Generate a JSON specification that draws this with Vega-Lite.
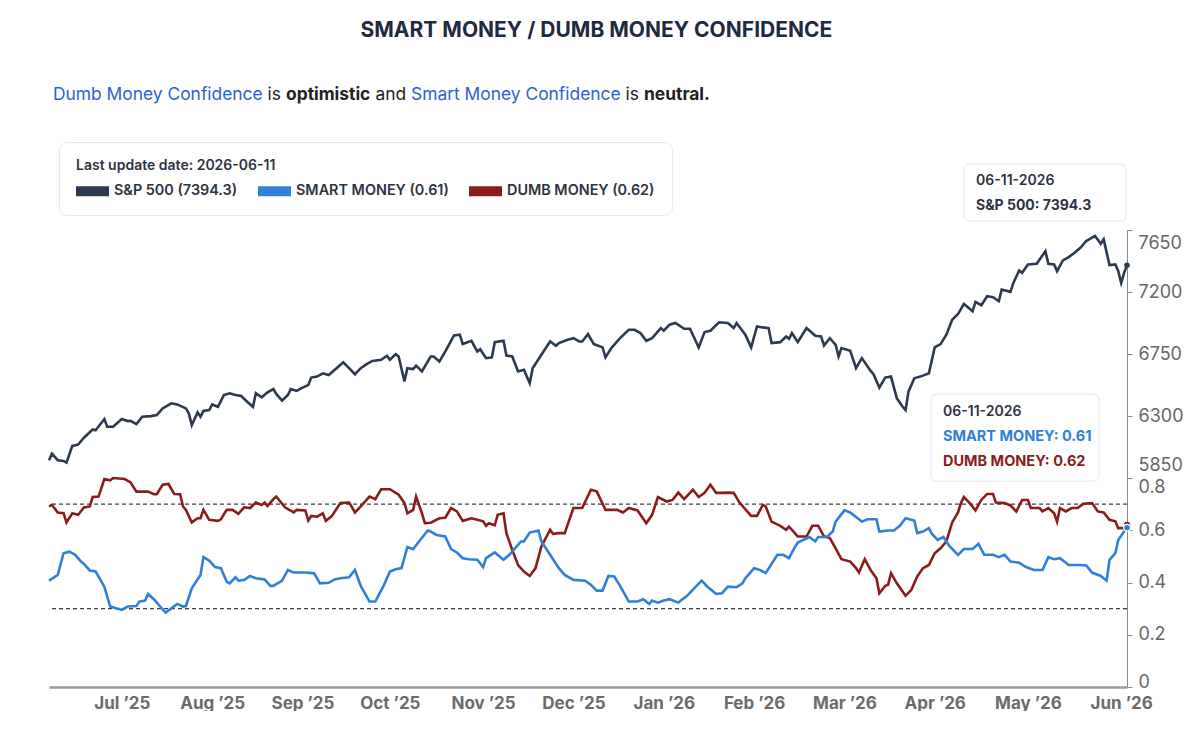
{
"$schema": "https://vega.github.io/schema/vega-lite/v6.json",
"background": "white",
"padding": {"left": 43, "top": 19, "right": 0, "bottom": 0},
"config": {"view": {"stroke": null}, "font": "Inter", "title": {"font": "Inter"}},
"title": {"text": "SMART MONEY / DUMB MONEY CONFIDENCE", "fontSize": 21, "fontWeight": 700, "color": "#1e2a40", "anchor": "middle", "offset": 45, "dx": -17},
"datasets": {
"sp": [
{"date":"2025-06-06","value":5979},{"date":"2025-06-07","value":6027},{"date":"2025-06-09","value":5979},{"date":"2025-06-11","value":5974},{"date":"2025-06-12","value":5962},{"date":"2025-06-14","value":6083},{"date":"2025-06-16","value":6093},{"date":"2025-06-18","value":6142},{"date":"2025-06-21","value":6202},{"date":"2025-06-22","value":6197},{"date":"2025-06-25","value":6278},{"date":"2025-06-26","value":6222},{"date":"2025-06-28","value":6222},
{"date":"2025-07-01","value":6278},{"date":"2025-07-03","value":6263},{"date":"2025-07-04","value":6265},{"date":"2025-07-06","value":6241},{"date":"2025-07-08","value":6295},{"date":"2025-07-11","value":6299},{"date":"2025-07-13","value":6307},{"date":"2025-07-15","value":6355},{"date":"2025-07-18","value":6392},{"date":"2025-07-20","value":6384},{"date":"2025-07-23","value":6355},{"date":"2025-07-24","value":6319},{"date":"2025-07-25","value":6234},{"date":"2025-07-27","value":6326},{"date":"2025-07-28","value":6295},{"date":"2025-07-29","value":6336},{"date":"2025-07-31","value":6343},
{"date":"2025-08-01","value":6384},{"date":"2025-08-03","value":6367},{"date":"2025-08-05","value":6452},{"date":"2025-08-07","value":6465},{"date":"2025-08-09","value":6452},{"date":"2025-08-11","value":6445},{"date":"2025-08-13","value":6404},{"date":"2025-08-15","value":6367},{"date":"2025-08-16","value":6465},{"date":"2025-08-18","value":6436},{"date":"2025-08-20","value":6472},{"date":"2025-08-22","value":6496},{"date":"2025-08-23","value":6460},{"date":"2025-08-25","value":6411},{"date":"2025-08-27","value":6452},{"date":"2025-08-28","value":6496},{"date":"2025-08-30","value":6482},
{"date":"2025-09-01","value":6506},{"date":"2025-09-03","value":6525},{"date":"2025-09-04","value":6579},{"date":"2025-09-06","value":6586},{"date":"2025-09-08","value":6610},{"date":"2025-09-10","value":6598},{"date":"2025-09-13","value":6652},{"date":"2025-09-15","value":6690},{"date":"2025-09-17","value":6647},{"date":"2025-09-19","value":6603},{"date":"2025-09-21","value":6647},{"date":"2025-09-23","value":6676},{"date":"2025-09-25","value":6700},{"date":"2025-09-28","value":6708},{"date":"2025-09-30","value":6737},
{"date":"2025-10-01","value":6708},{"date":"2025-10-03","value":6749},{"date":"2025-10-04","value":6732},{"date":"2025-10-06","value":6550},{"date":"2025-10-07","value":6647},{"date":"2025-10-09","value":6640},{"date":"2025-10-10","value":6666},{"date":"2025-10-12","value":6623},{"date":"2025-10-15","value":6732},{"date":"2025-10-16","value":6732},{"date":"2025-10-18","value":6695},{"date":"2025-10-20","value":6768},{"date":"2025-10-23","value":6885},{"date":"2025-10-25","value":6890},{"date":"2025-10-26","value":6822},{"date":"2025-10-29","value":6846},{"date":"2025-10-31","value":6768},
{"date":"2025-11-01","value":6785},{"date":"2025-11-03","value":6720},{"date":"2025-11-05","value":6725},{"date":"2025-11-06","value":6836},{"date":"2025-11-09","value":6846},{"date":"2025-11-10","value":6739},{"date":"2025-11-12","value":6732},{"date":"2025-11-14","value":6623},{"date":"2025-11-16","value":6635},{"date":"2025-11-18","value":6538},{"date":"2025-11-19","value":6647},{"date":"2025-11-22","value":6744},{"date":"2025-11-25","value":6841},{"date":"2025-11-27","value":6810},{"date":"2025-11-28","value":6829},
{"date":"2025-12-01","value":6853},{"date":"2025-12-03","value":6865},{"date":"2025-12-05","value":6841},{"date":"2025-12-06","value":6841},{"date":"2025-12-08","value":6895},{"date":"2025-12-10","value":6822},{"date":"2025-12-13","value":6798},{"date":"2025-12-14","value":6725},{"date":"2025-12-16","value":6793},{"date":"2025-12-19","value":6865},{"date":"2025-12-22","value":6926},{"date":"2025-12-24","value":6926},{"date":"2025-12-26","value":6902},{"date":"2025-12-28","value":6846},{"date":"2025-12-30","value":6865},
{"date":"2026-01-02","value":6938},{"date":"2026-01-03","value":6919},{"date":"2026-01-05","value":6963},{"date":"2026-01-07","value":6975},{"date":"2026-01-10","value":6933},{"date":"2026-01-12","value":6933},{"date":"2026-01-15","value":6798},{"date":"2026-01-17","value":6909},{"date":"2026-01-19","value":6919},{"date":"2026-01-22","value":6980},{"date":"2026-01-25","value":6975},{"date":"2026-01-27","value":6938},{"date":"2026-01-28","value":6975},{"date":"2026-01-31","value":6890},
{"date":"2026-02-02","value":6798},{"date":"2026-02-04","value":6950},{"date":"2026-02-06","value":6943},{"date":"2026-02-08","value":6938},{"date":"2026-02-09","value":6829},{"date":"2026-02-12","value":6836},{"date":"2026-02-14","value":6877},{"date":"2026-02-15","value":6860},{"date":"2026-02-16","value":6902},{"date":"2026-02-18","value":6836},{"date":"2026-02-21","value":6938},{"date":"2026-02-24","value":6882},{"date":"2026-02-26","value":6878},{"date":"2026-02-27","value":6812},
{"date":"2026-03-01","value":6865},{"date":"2026-03-03","value":6817},{"date":"2026-03-04","value":6732},{"date":"2026-03-05","value":6793},{"date":"2026-03-08","value":6773},{"date":"2026-03-10","value":6647},{"date":"2026-03-12","value":6720},{"date":"2026-03-15","value":6627},{"date":"2026-03-16","value":6603},{"date":"2026-03-18","value":6506},{"date":"2026-03-20","value":6579},{"date":"2026-03-22","value":6586},{"date":"2026-03-24","value":6428},{"date":"2026-03-26","value":6367},{"date":"2026-03-27","value":6343},{"date":"2026-03-28","value":6477},{"date":"2026-03-30","value":6574},
{"date":"2026-04-02","value":6593},{"date":"2026-04-04","value":6610},{"date":"2026-04-06","value":6798},{"date":"2026-04-08","value":6822},{"date":"2026-04-10","value":6890},{"date":"2026-04-12","value":6999},{"date":"2026-04-14","value":7040},{"date":"2026-04-16","value":7113},{"date":"2026-04-17","value":7096},{"date":"2026-04-19","value":7060},{"date":"2026-04-20","value":7128},{"date":"2026-04-22","value":7104},{"date":"2026-04-24","value":7169},{"date":"2026-04-26","value":7162},{"date":"2026-04-28","value":7133},{"date":"2026-04-29","value":7218},
{"date":"2026-05-02","value":7201},{"date":"2026-05-03","value":7266},{"date":"2026-05-05","value":7356},{"date":"2026-05-06","value":7339},{"date":"2026-05-08","value":7400},{"date":"2026-05-11","value":7405},{"date":"2026-05-12","value":7436},{"date":"2026-05-14","value":7497},{"date":"2026-05-15","value":7405},{"date":"2026-05-17","value":7400},{"date":"2026-05-18","value":7351},{"date":"2026-05-20","value":7429},{"date":"2026-05-22","value":7453},{"date":"2026-05-24","value":7485},{"date":"2026-05-26","value":7521},{"date":"2026-05-28","value":7570},{"date":"2026-05-30","value":7594},{"date":"2026-05-31","value":7606},
{"date":"2026-06-02","value":7550},{"date":"2026-06-03","value":7582},{"date":"2026-06-05","value":7395},{"date":"2026-06-07","value":7400},{"date":"2026-06-08","value":7351},{"date":"2026-06-09","value":7266},{"date":"2026-06-10","value":7339},{"date":"2026-06-11","value":7394.3}
],
"dumb": [
{"date":"2025-06-06","value":0.691},{"date":"2025-06-07","value":0.697},{"date":"2025-06-09","value":0.668},{"date":"2025-06-11","value":0.665},{"date":"2025-06-12","value":0.630},{"date":"2025-06-14","value":0.665},{"date":"2025-06-16","value":0.659},{"date":"2025-06-18","value":0.687},{"date":"2025-06-20","value":0.691},{"date":"2025-06-21","value":0.727},{"date":"2025-06-23","value":0.729},{"date":"2025-06-25","value":0.796},{"date":"2025-06-27","value":0.791},{"date":"2025-06-28","value":0.800},
{"date":"2025-07-02","value":0.796},{"date":"2025-07-04","value":0.783},{"date":"2025-07-06","value":0.748},{"date":"2025-07-10","value":0.748},{"date":"2025-07-12","value":0.738},{"date":"2025-07-13","value":0.738},{"date":"2025-07-15","value":0.774},{"date":"2025-07-17","value":0.777},{"date":"2025-07-19","value":0.739},{"date":"2025-07-21","value":0.738},{"date":"2025-07-22","value":0.691},{"date":"2025-07-23","value":0.678},{"date":"2025-07-25","value":0.630},{"date":"2025-07-27","value":0.646},{"date":"2025-07-28","value":0.646},{"date":"2025-07-29","value":0.678},{"date":"2025-07-31","value":0.640},
{"date":"2025-08-03","value":0.636},{"date":"2025-08-04","value":0.642},{"date":"2025-08-06","value":0.678},{"date":"2025-08-08","value":0.678},{"date":"2025-08-10","value":0.663},{"date":"2025-08-12","value":0.688},{"date":"2025-08-14","value":0.685},{"date":"2025-08-16","value":0.706},{"date":"2025-08-18","value":0.697},{"date":"2025-08-19","value":0.706},{"date":"2025-08-20","value":0.693},{"date":"2025-08-22","value":0.719},{"date":"2025-08-23","value":0.729},{"date":"2025-08-26","value":0.688},{"date":"2025-08-29","value":0.668},{"date":"2025-08-30","value":0.678},
{"date":"2025-09-02","value":0.676},{"date":"2025-09-03","value":0.637},{"date":"2025-09-04","value":0.655},{"date":"2025-09-06","value":0.652},{"date":"2025-09-08","value":0.665},{"date":"2025-09-09","value":0.636},{"date":"2025-09-11","value":0.653},{"date":"2025-09-14","value":0.704},{"date":"2025-09-17","value":0.706},{"date":"2025-09-18","value":0.688},{"date":"2025-09-19","value":0.668},{"date":"2025-09-21","value":0.691},{"date":"2025-09-24","value":0.729},{"date":"2025-09-26","value":0.719},{"date":"2025-09-28","value":0.757},
{"date":"2025-10-01","value":0.757},{"date":"2025-10-04","value":0.736},{"date":"2025-10-06","value":0.704},{"date":"2025-10-07","value":0.665},{"date":"2025-10-09","value":0.678},{"date":"2025-10-10","value":0.729},{"date":"2025-10-12","value":0.665},{"date":"2025-10-13","value":0.627},{"date":"2025-10-15","value":0.629},{"date":"2025-10-18","value":0.646},{"date":"2025-10-20","value":0.648},{"date":"2025-10-22","value":0.685},{"date":"2025-10-24","value":0.672},{"date":"2025-10-26","value":0.636},{"date":"2025-10-29","value":0.646},{"date":"2025-10-31","value":0.640},
{"date":"2025-11-02","value":0.634},{"date":"2025-11-03","value":0.617},{"date":"2025-11-04","value":0.627},{"date":"2025-11-06","value":0.619},{"date":"2025-11-07","value":0.659},{"date":"2025-11-09","value":0.665},{"date":"2025-11-10","value":0.589},{"date":"2025-11-12","value":0.525},{"date":"2025-11-14","value":0.467},{"date":"2025-11-16","value":0.442},{"date":"2025-11-18","value":0.425},{"date":"2025-11-20","value":0.455},{"date":"2025-11-22","value":0.538},{"date":"2025-11-25","value":0.602},{"date":"2025-11-26","value":0.586},{"date":"2025-11-28","value":0.589},{"date":"2025-11-30","value":0.589},
{"date":"2025-12-03","value":0.685},{"date":"2025-12-06","value":0.685},{"date":"2025-12-09","value":0.755},{"date":"2025-12-11","value":0.749},{"date":"2025-12-14","value":0.678},{"date":"2025-12-18","value":0.678},{"date":"2025-12-20","value":0.668},{"date":"2025-12-22","value":0.685},{"date":"2025-12-25","value":0.676},{"date":"2025-12-28","value":0.627},{"date":"2025-12-30","value":0.659},
{"date":"2026-01-01","value":0.727},{"date":"2026-01-04","value":0.710},{"date":"2026-01-06","value":0.716},{"date":"2026-01-08","value":0.744},{"date":"2026-01-10","value":0.719},{"date":"2026-01-13","value":0.755},{"date":"2026-01-15","value":0.727},{"date":"2026-01-17","value":0.743},{"date":"2026-01-19","value":0.774},{"date":"2026-01-21","value":0.743},{"date":"2026-01-23","value":0.743},{"date":"2026-01-25","value":0.744},{"date":"2026-01-27","value":0.743},{"date":"2026-01-29","value":0.706},
{"date":"2026-02-02","value":0.655},{"date":"2026-02-04","value":0.655},{"date":"2026-02-06","value":0.697},{"date":"2026-02-07","value":0.691},{"date":"2026-02-09","value":0.633},{"date":"2026-02-12","value":0.617},{"date":"2026-02-14","value":0.602},{"date":"2026-02-15","value":0.614},{"date":"2026-02-17","value":0.589},{"date":"2026-02-18","value":0.576},{"date":"2026-02-21","value":0.576},{"date":"2026-02-23","value":0.617},{"date":"2026-02-25","value":0.617},{"date":"2026-02-27","value":0.577},
{"date":"2026-03-01","value":0.570},{"date":"2026-03-03","value":0.531},{"date":"2026-03-05","value":0.489},{"date":"2026-03-08","value":0.480},{"date":"2026-03-10","value":0.455},{"date":"2026-03-11","value":0.438},{"date":"2026-03-13","value":0.489},{"date":"2026-03-15","value":0.448},{"date":"2026-03-17","value":0.416},{"date":"2026-03-18","value":0.359},{"date":"2026-03-20","value":0.387},{"date":"2026-03-21","value":0.391},{"date":"2026-03-22","value":0.436},{"date":"2026-03-24","value":0.397},{"date":"2026-03-27","value":0.349},{"date":"2026-03-29","value":0.372},{"date":"2026-03-31","value":0.423},
{"date":"2026-04-02","value":0.455},{"date":"2026-04-04","value":0.467},{"date":"2026-04-06","value":0.512},{"date":"2026-04-08","value":0.531},{"date":"2026-04-10","value":0.557},{"date":"2026-04-12","value":0.630},{"date":"2026-04-14","value":0.668},{"date":"2026-04-15","value":0.704},{"date":"2026-04-16","value":0.727},{"date":"2026-04-18","value":0.704},{"date":"2026-04-20","value":0.676},{"date":"2026-04-22","value":0.716},{"date":"2026-04-24","value":0.739},{"date":"2026-04-26","value":0.739},{"date":"2026-04-27","value":0.706},{"date":"2026-04-30","value":0.704},
{"date":"2026-05-02","value":0.695},{"date":"2026-05-04","value":0.672},{"date":"2026-05-06","value":0.716},{"date":"2026-05-08","value":0.716},{"date":"2026-05-09","value":0.685},{"date":"2026-05-12","value":0.685},{"date":"2026-05-13","value":0.672},{"date":"2026-05-15","value":0.685},{"date":"2026-05-17","value":0.665},{"date":"2026-05-18","value":0.633},{"date":"2026-05-19","value":0.685},{"date":"2026-05-21","value":0.672},{"date":"2026-05-23","value":0.685},{"date":"2026-05-25","value":0.685},{"date":"2026-05-27","value":0.701},{"date":"2026-05-30","value":0.704},
{"date":"2026-06-01","value":0.672},{"date":"2026-06-03","value":0.668},{"date":"2026-06-05","value":0.640},{"date":"2026-06-07","value":0.634},{"date":"2026-06-08","value":0.608},{"date":"2026-06-10","value":0.608},{"date":"2026-06-11","value":0.62}
],
"smart": [
{"date":"2025-06-06","value":0.407},{"date":"2025-06-09","value":0.429},{"date":"2025-06-11","value":0.512},{"date":"2025-06-13","value":0.518},{"date":"2025-06-15","value":0.506},{"date":"2025-06-17","value":0.480},{"date":"2025-06-18","value":0.471},{"date":"2025-06-20","value":0.446},{"date":"2025-06-22","value":0.442},{"date":"2025-06-23","value":0.423},{"date":"2025-06-25","value":0.384},{"date":"2025-06-27","value":0.308},{"date":"2025-06-29","value":0.301},
{"date":"2025-07-01","value":0.295},{"date":"2025-07-03","value":0.308},{"date":"2025-07-06","value":0.310},{"date":"2025-07-07","value":0.327},{"date":"2025-07-09","value":0.331},{"date":"2025-07-10","value":0.356},{"date":"2025-07-12","value":0.336},{"date":"2025-07-14","value":0.310},{"date":"2025-07-16","value":0.285},{"date":"2025-07-18","value":0.301},{"date":"2025-07-20","value":0.318},{"date":"2025-07-22","value":0.308},{"date":"2025-07-23","value":0.310},{"date":"2025-07-25","value":0.378},{"date":"2025-07-28","value":0.429},{"date":"2025-07-29","value":0.497},{"date":"2025-07-31","value":0.484},
{"date":"2025-08-02","value":0.459},{"date":"2025-08-04","value":0.455},{"date":"2025-08-06","value":0.403},{"date":"2025-08-07","value":0.397},{"date":"2025-08-09","value":0.420},{"date":"2025-08-10","value":0.407},{"date":"2025-08-12","value":0.410},{"date":"2025-08-14","value":0.425},{"date":"2025-08-16","value":0.416},{"date":"2025-08-19","value":0.412},{"date":"2025-08-21","value":0.387},{"date":"2025-08-22","value":0.387},{"date":"2025-08-25","value":0.407},{"date":"2025-08-27","value":0.448},{"date":"2025-08-29","value":0.438},
{"date":"2025-09-02","value":0.438},{"date":"2025-09-05","value":0.435},{"date":"2025-09-07","value":0.397},{"date":"2025-09-10","value":0.399},{"date":"2025-09-12","value":0.412},{"date":"2025-09-14","value":0.416},{"date":"2025-09-17","value":0.420},{"date":"2025-09-19","value":0.448},{"date":"2025-09-21","value":0.387},{"date":"2025-09-24","value":0.327},{"date":"2025-09-26","value":0.327},{"date":"2025-09-29","value":0.391},
{"date":"2025-10-01","value":0.442},{"date":"2025-10-03","value":0.451},{"date":"2025-10-05","value":0.455},{"date":"2025-10-07","value":0.535},{"date":"2025-10-09","value":0.528},{"date":"2025-10-11","value":0.557},{"date":"2025-10-14","value":0.599},{"date":"2025-10-15","value":0.595},{"date":"2025-10-17","value":0.582},{"date":"2025-10-20","value":0.576},{"date":"2025-10-22","value":0.528},{"date":"2025-10-24","value":0.515},{"date":"2025-10-26","value":0.493},{"date":"2025-10-28","value":0.489},{"date":"2025-10-31","value":0.487},
{"date":"2025-11-02","value":0.459},{"date":"2025-11-03","value":0.493},{"date":"2025-11-06","value":0.515},{"date":"2025-11-09","value":0.487},{"date":"2025-11-11","value":0.506},{"date":"2025-11-15","value":0.557},{"date":"2025-11-16","value":0.557},{"date":"2025-11-18","value":0.591},{"date":"2025-11-21","value":0.599},{"date":"2025-11-22","value":0.557},{"date":"2025-11-25","value":0.506},{"date":"2025-11-28","value":0.455},{"date":"2025-11-30","value":0.429},
{"date":"2025-12-03","value":0.410},{"date":"2025-12-07","value":0.407},{"date":"2025-12-09","value":0.391},{"date":"2025-12-11","value":0.369},{"date":"2025-12-13","value":0.369},{"date":"2025-12-15","value":0.425},{"date":"2025-12-17","value":0.423},{"date":"2025-12-19","value":0.387},{"date":"2025-12-22","value":0.327},{"date":"2025-12-25","value":0.327},{"date":"2025-12-27","value":0.336},{"date":"2025-12-29","value":0.318},{"date":"2025-12-30","value":0.331},
{"date":"2026-01-01","value":0.323},{"date":"2026-01-03","value":0.331},{"date":"2026-01-05","value":0.336},{"date":"2026-01-08","value":0.323},{"date":"2026-01-11","value":0.349},{"date":"2026-01-14","value":0.384},{"date":"2026-01-16","value":0.407},{"date":"2026-01-18","value":0.384},{"date":"2026-01-21","value":0.356},{"date":"2026-01-23","value":0.359},{"date":"2026-01-25","value":0.384},{"date":"2026-01-28","value":0.382},{"date":"2026-01-30","value":0.397},{"date":"2026-01-31","value":0.416},
{"date":"2026-02-03","value":0.455},{"date":"2026-02-05","value":0.448},{"date":"2026-02-07","value":0.436},{"date":"2026-02-09","value":0.471},{"date":"2026-02-11","value":0.506},{"date":"2026-02-13","value":0.506},{"date":"2026-02-15","value":0.493},{"date":"2026-02-17","value":0.535},{"date":"2026-02-18","value":0.553},{"date":"2026-02-22","value":0.574},{"date":"2026-02-24","value":0.557},{"date":"2026-02-25","value":0.574},{"date":"2026-02-28","value":0.574},
{"date":"2026-03-02","value":0.595},{"date":"2026-03-03","value":0.633},{"date":"2026-03-06","value":0.676},{"date":"2026-03-08","value":0.668},{"date":"2026-03-11","value":0.642},{"date":"2026-03-12","value":0.633},{"date":"2026-03-14","value":0.642},{"date":"2026-03-17","value":0.642},{"date":"2026-03-18","value":0.595},{"date":"2026-03-21","value":0.599},{"date":"2026-03-23","value":0.599},{"date":"2026-03-25","value":0.617},{"date":"2026-03-27","value":0.646},{"date":"2026-03-30","value":0.637},{"date":"2026-03-31","value":0.589},
{"date":"2026-04-02","value":0.595},{"date":"2026-04-04","value":0.608},{"date":"2026-04-05","value":0.587},{"date":"2026-04-07","value":0.563},{"date":"2026-04-09","value":0.574},{"date":"2026-04-11","value":0.540},{"date":"2026-04-14","value":0.506},{"date":"2026-04-16","value":0.528},{"date":"2026-04-19","value":0.528},{"date":"2026-04-21","value":0.548},{"date":"2026-04-23","value":0.506},{"date":"2026-04-26","value":0.506},{"date":"2026-04-28","value":0.497},{"date":"2026-04-30","value":0.506},
{"date":"2026-05-02","value":0.480},{"date":"2026-05-05","value":0.476},{"date":"2026-05-07","value":0.461},{"date":"2026-05-10","value":0.448},{"date":"2026-05-13","value":0.448},{"date":"2026-05-15","value":0.497},{"date":"2026-05-17","value":0.489},{"date":"2026-05-19","value":0.493},{"date":"2026-05-22","value":0.467},{"date":"2026-05-26","value":0.467},{"date":"2026-05-28","value":0.465},{"date":"2026-05-30","value":0.438},
{"date":"2026-06-02","value":0.425},{"date":"2026-06-04","value":0.407},{"date":"2026-06-05","value":0.487},{"date":"2026-06-07","value":0.512},{"date":"2026-06-08","value":0.563},{"date":"2026-06-10","value":0.595},{"date":"2026-06-11","value":0.61}
],
"tip": [{"date":"2026-06-11","sp":7394.3,"smart":0.61,"dumb":0.62}],
"levels": [{"level":0.7},{"level":0.3}]
},
"resolve": {"scale": {"color": "independent"}, "legend": {"color": "independent"}},
"spacing": 37,
"vconcat": [
{"hconcat": [
{"width": 1, "height": 1, "data": {"values": []}, "mark": {"type": "point", "opacity": 0}, "title": {"text": "Dumb Money Confidence", "color": "#2a62d6", "fontSize": 17.4, "fontWeight": 400, "anchor": "start", "offset": 0, "dx": 4}},
{"width": 1, "height": 1, "data": {"values": []}, "mark": {"type": "point", "opacity": 0}, "title": {"text": "is", "color": "#222222", "fontSize": 17.4, "fontWeight": 400, "anchor": "start", "offset": 0}},
{"width": 1, "height": 1, "data": {"values": []}, "mark": {"type": "point", "opacity": 0}, "title": {"text": "optimistic", "color": "#222222", "fontSize": 17.4, "fontWeight": 700, "anchor": "start", "offset": 0}},
{"width": 1, "height": 1, "data": {"values": []}, "mark": {"type": "point", "opacity": 0}, "title": {"text": "and", "color": "#222222", "fontSize": 17.4, "fontWeight": 400, "anchor": "start", "offset": 0}},
{"width": 1, "height": 1, "data": {"values": []}, "mark": {"type": "point", "opacity": 0}, "title": {"text": "Smart Money Confidence", "color": "#2a62d6", "fontSize": 17.4, "fontWeight": 400, "anchor": "start", "offset": 0}},
{"width": 1, "height": 1, "data": {"values": []}, "mark": {"type": "point", "opacity": 0}, "title": {"text": "is", "color": "#222222", "fontSize": 17.4, "fontWeight": 400, "anchor": "start", "offset": 0}},
{"width": 1, "height": 1, "data": {"values": []}, "mark": {"type": "point", "opacity": 0}, "title": {"text": "neutral.", "color": "#222222", "fontSize": 17.4, "fontWeight": 700, "anchor": "start", "offset": 0}}
], "spacing": 4.5},
{"vconcat": [
{"width": 1078, "height": 248,
 "layer": [
  {"data": {"name": "sp"}, "mark": {"type": "line", "strokeWidth": 2.6, "color": "#2c3a4f"},
   "encoding": {
    "x": {"field": "date", "type": "temporal", "scale": {"domain": [{"year": 2025, "month": 6, "date": 6}, {"year": 2026, "month": 6, "date": 11}]}, "axis": null},
    "y": {"field": "value", "type": "quantitative", "scale": {"domain": [5850, 7650], "zero": false, "nice": false},
          "axis": {"orient": "right", "title": null, "values": [5850, 6300, 6750, 7200, 7650], "format": "d", "labelFlush": true, "labelFlushOffset": -4, "grid": false, "domainColor": "#8a8a8a", "tickColor": "#8a8a8a", "tickSize": 5, "labelColor": "#666666", "labelFontSize": 18, "labelFont": "Inter", "labelPadding": 6}}
   }},
  {"data": {"values": []}, "mark": {"type": "point", "filled": true, "opacity": 1},
   "encoding": {
    "color": {"datum": "S&P 500", "type": "nominal",
      "scale": {"domain": ["S&P 500", "SMART MONEY", "DUMB MONEY"], "range": ["#2c3a4f", "#2f80d8", "#8b1c1c"]},
      "legend": {"orient": "none", "legendX": 10, "legendY": -88, "direction": "horizontal",
        "title": "Last update date: 2026-06-11", "titleLimit": 500, "titleFont": "Inter", "titleFontSize": 14, "titleFontWeight": 600, "titleColor": "#2d3341", "titlePadding": 3,
        "labelFont": "Inter", "labelFontSize": 14.4, "labelFontWeight": 600, "labelColor": "#2d3341", "labelOffset": 8, "columnPadding": 20, "labelLimit": 400,
        "symbolType": "M-1,-0.333H1.2V0.333H-1Z", "symbolStrokeWidth": 0, "symbolSize": 900, "symbolOpacity": 1,
        "padding": 17, "cornerRadius": 8, "fillColor": "#ffffff", "strokeColor": "#e6e8ec",
        "labelExpr": "datum.label == 'S&P 500' ? 'S&P 500 (7394.3)' : datum.label == 'SMART MONEY' ? 'SMART MONEY (0.61)' : 'DUMB MONEY (0.62)'"}}
   }},
  {"data": {"name": "tip"}, "mark": {"type": "point", "filled": true, "size": 30, "color": "#2c3a4f", "opacity": 1},
   "encoding": {"x": {"field": "date", "type": "temporal", "axis": null}, "y": {"field": "sp", "type": "quantitative"}}},
  {"data": {"name": "tip"}, "mark": {"type": "point", "filled": true, "opacity": 1, "fill": "#ffffff", "stroke": "#e4e6ea", "strokeWidth": 1, "size": 26244, "xOffset": -82, "yOffset": -72.6,
     "shape": "M-0.926,-0.352 L0.926,-0.352 Q1,-0.352 1,-0.278 L1,0.278 Q1,0.352 0.926,0.352 L-0.926,0.352 Q-1,0.352 -1,0.278 L-1,-0.278 Q-1,-0.352 -0.926,-0.352 Z"},
   "encoding": {"x": {"field": "date", "type": "temporal", "axis": null}, "y": {"field": "sp", "type": "quantitative"}}},
  {"data": {"name": "tip"}, "mark": {"type": "point", "filled": true, "opacity": 1, "fill": "#ffffff", "stroke": "#e4e6ea", "strokeWidth": 1, "size": 28224, "xOffset": -112, "yOffset": 172.4,
     "shape": "M-0.929,-0.518 L0.929,-0.518 Q1,-0.518 1,-0.447 L1,0.447 Q1,0.518 0.929,0.518 L-0.929,0.518 Q-1,0.518 -1,0.447 L-1,-0.447 Q-1,-0.518 -0.929,-0.518 Z"},
   "encoding": {"x": {"field": "date", "type": "temporal", "axis": null}, "y": {"field": "sp", "type": "quantitative"}}},
  {"data": {"name": "tip"}, "transform": [{"calculate": "utcFormat(toDate(datum.date), '%m-%d-%Y')", "as": "d"}],
   "mark": {"type": "text", "align": "left", "baseline": "middle", "dx": -151, "dy": -84, "fontSize": 14, "fontWeight": 600, "color": "#2d3341", "font": "Inter"},
   "encoding": {"x": {"field": "date", "type": "temporal", "axis": null}, "y": {"field": "sp", "type": "quantitative"}, "text": {"field": "d"}}},
  {"data": {"name": "tip"}, "transform": [{"calculate": "'S&P 500: ' + format(datum.sp, '.1f')", "as": "t"}],
   "mark": {"type": "text", "align": "left", "baseline": "middle", "dx": -151, "dy": -59, "fontSize": 14, "fontWeight": 700, "color": "#2d3341", "font": "Inter"},
   "encoding": {"x": {"field": "date", "type": "temporal", "axis": null}, "y": {"field": "sp", "type": "quantitative"}, "text": {"field": "t"}}},
  {"data": {"name": "tip"}, "transform": [{"calculate": "utcFormat(toDate(datum.date), '%m-%d-%Y')", "as": "d"}],
   "mark": {"type": "text", "align": "left", "baseline": "middle", "dx": -184, "dy": 147, "fontSize": 14, "fontWeight": 600, "color": "#2d3341", "font": "Inter"},
   "encoding": {"x": {"field": "date", "type": "temporal", "axis": null}, "y": {"field": "sp", "type": "quantitative"}, "text": {"field": "d"}}},
  {"data": {"name": "tip"}, "transform": [{"calculate": "'SMART MONEY: ' + format(datum.smart, '.2f')", "as": "t"}],
   "mark": {"type": "text", "align": "left", "baseline": "middle", "dx": -184, "dy": 172, "fontSize": 14.5, "fontWeight": 700, "color": "#2f80d8", "font": "Inter"},
   "encoding": {"x": {"field": "date", "type": "temporal", "axis": null}, "y": {"field": "sp", "type": "quantitative"}, "text": {"field": "t"}}},
  {"data": {"name": "tip"}, "transform": [{"calculate": "'DUMB MONEY: ' + format(datum.dumb, '.2f')", "as": "t"}],
   "mark": {"type": "text", "align": "left", "baseline": "middle", "dx": -184, "dy": 197, "fontSize": 14.5, "fontWeight": 700, "color": "#8b1c1c", "font": "Inter"},
   "encoding": {"x": {"field": "date", "type": "temporal", "axis": null}, "y": {"field": "sp", "type": "quantitative"}, "text": {"field": "t"}}}
 ]},
{"width": 1078, "height": 209,
 "layer": [
  {"data": {"name": "levels"}, "mark": {"type": "rule", "color": "#3a3f4a", "strokeWidth": 1.2, "strokeDash": [4, 3]},
   "encoding": {
    "y": {"field": "level", "type": "quantitative", "scale": {"domain": [0, 0.8], "nice": false},
          "axis": {"orient": "right", "title": null, "values": [0, 0.2, 0.4, 0.6, 0.8], "format": "~g", "labelFlush": false, "grid": false, "domainColor": "#8a8a8a", "tickColor": "#8a8a8a", "tickSize": 5, "labelColor": "#666666", "labelFontSize": 18, "labelFont": "Inter", "labelPadding": 6,
                   "labelBaseline": {"condition": [{"test": "datum.value === 0.8", "value": "top"}, {"test": "datum.value === 0", "value": "alphabetic"}], "value": "middle"}}}
   }},
  {"data": {"name": "dumb"}, "mark": {"type": "line", "strokeWidth": 2.6, "color": "#8b1c1c"},
   "encoding": {
    "x": {"field": "date", "type": "temporal", "scale": {"domain": [{"year": 2025, "month": 6, "date": 6}, {"year": 2026, "month": 6, "date": 11}]},
          "axis": {"title": null, "format": "%b \u2019%y",
                   "values": [{"year": 2025, "month": 7, "date": 1}, {"year": 2025, "month": 8, "date": 1}, {"year": 2025, "month": 9, "date": 1}, {"year": 2025, "month": 10, "date": 1}, {"year": 2025, "month": 11, "date": 2}, {"year": 2025, "month": 12, "date": 3}, {"year": 2026, "month": 1, "date": 3}, {"year": 2026, "month": 2, "date": 3}, {"year": 2026, "month": 3, "date": 6}, {"year": 2026, "month": 4, "date": 6}, {"year": 2026, "month": 5, "date": 8}, {"year": 2026, "month": 6, "date": 9}],
                   "grid": false, "ticks": false, "domainColor": "#9a9a9a", "domainWidth": 2.5, "labelColor": "#6b6b6b", "labelFontSize": 17, "labelFontWeight": 700, "labelFont": "Inter", "labelPadding": 8, "labelFlush": false, "labelOverlap": false}},
    "y": {"field": "value", "type": "quantitative"}
   }},
  {"data": {"name": "smart"}, "mark": {"type": "line", "strokeWidth": 2.6, "color": "#2f80d8"},
   "encoding": {"x": {"field": "date", "type": "temporal"}, "y": {"field": "value", "type": "quantitative"}}},
  {"data": {"name": "tip"}, "mark": {"type": "point", "filled": true, "size": 40, "color": "#8b1c1c", "opacity": 1},
   "encoding": {"x": {"field": "date", "type": "temporal"}, "y": {"field": "dumb", "type": "quantitative"}}},
  {"data": {"name": "tip"}, "mark": {"type": "point", "filled": true, "size": 45, "fill": "#2f80d8", "stroke": "#ffffff", "strokeWidth": 1.2, "opacity": 1},
   "encoding": {"x": {"field": "date", "type": "temporal"}, "y": {"field": "smart", "type": "quantitative"}}}
 ]}
], "spacing": 0, "bounds": "flush", "resolve": {"scale": {"y": "independent", "color": "independent"}, "legend": {"color": "independent"}}}
]
}
